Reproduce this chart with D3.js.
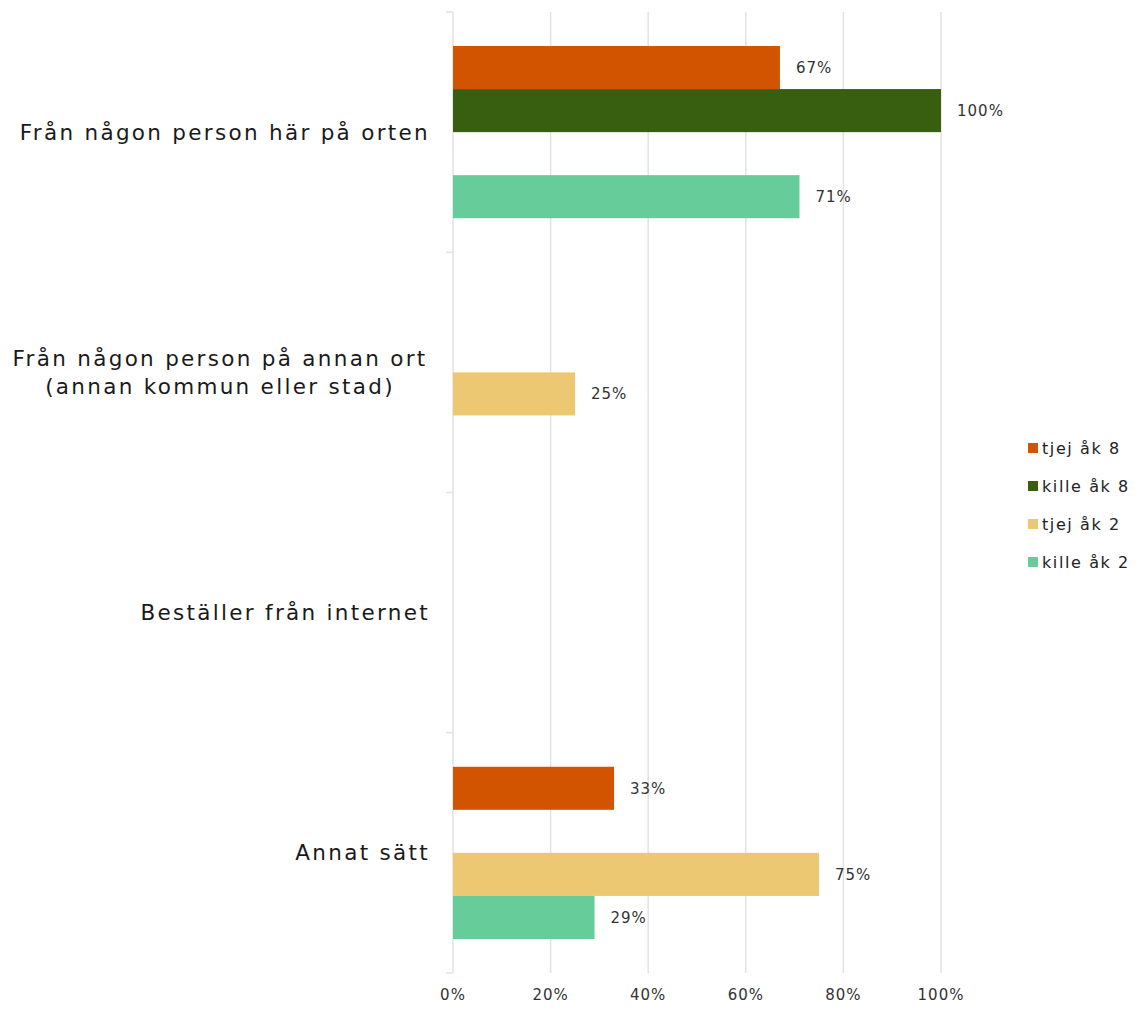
<!DOCTYPE html>
<html><head><meta charset="utf-8">
<script src="https://cdn.jsdelivr.net/npm/d3@7"></script>
<style>body{margin:0;background:#fff}svg{display:block}</style>
</head><body><svg id="c" width="1135" height="1009"></svg>
<script>
const categories = [["Från någon person här på orten"],["Från någon person på annan ort","(annan kommun eller stad)"],["Beställer från internet"],["Annat sätt"]];
const seriesNames = ["tjej åk 8","kille åk 8","tjej åk 2","kille åk 2"];
const seriesColors = ["#D35400","#385E0F","#ECC872","#66CC99"];
const tjejAk8 = [0.67, 0, 0, 0.33];
const killeAk8 = [1.00, 0, 0, 0];
const tjejAk2 = [0, 0.25, 0, 0.75];
const killeAk2 = [0.71, 0, 0, 0.29];
const seriesValues = [tjejAk8, killeAk8, tjejAk2, killeAk2];
const xTicks = [0,0.2,0.4,0.6,0.8,1.0];

const svg = d3.select("#c");
const font = "'DejaVu Sans',sans-serif";
const x = d3.scaleLinear().domain([0,1]).range([453,941]);
const y = d3.scaleBand().domain(d3.range(categories.length)).range([12,973]);
const inner = d3.scaleBand().domain(d3.range(seriesNames.length)).range([0,y.bandwidth()]).paddingOuter(0.79);

// gridlines
svg.append("g").selectAll("line").data(xTicks.slice(1)).join("line")
  .attr("x1",d=>x(d)).attr("x2",d=>x(d)).attr("y1",12).attr("y2",973)
  .attr("stroke","#e2e2e2").attr("stroke-width",1.5);
svg.append("line").attr("x1",453).attr("x2",453).attr("y1",12).attr("y2",973).attr("stroke","#e2e2e2").attr("stroke-width",1.5);
svg.append("g").selectAll("line").data(d3.range(categories.length+1)).join("line")
  .attr("x1",446).attr("x2",453)
  .attr("y1",d=>d<categories.length?y(d):973).attr("y2",d=>d<categories.length?y(d):973)
  .attr("stroke","#e2e2e2").attr("stroke-width",1.5);

// bars
seriesValues.forEach((vals,si)=>{
  const g = svg.append("g");
  const data = vals.map((v,i)=>({v,i})).filter(d=>d.v>0);
  g.selectAll("rect").data(data).join("rect")
    .attr("x",x(0)).attr("y",d=>y(d.i)+inner(si))
    .attr("width",d=>x(d.v)-x(0)).attr("height",inner.bandwidth())
    .attr("fill",seriesColors[si]);
  g.selectAll("text").data(data).join("text")
    .attr("x",d=>x(d.v)+16).attr("y",d=>y(d.i)+inner(si)+inner.bandwidth()/2)
    .attr("dy","0.35em").attr("font-family",font).attr("font-size",15).attr("letter-spacing",1)
    .attr("fill","#333").text(d=>Math.round(d.v*100)+"%");
});

// x tick labels
svg.append("g").selectAll("text").data(xTicks).join("text")
  .attr("x",d=>x(d)).attr("y",1000).attr("text-anchor","middle")
  .attr("font-family",font).attr("font-size",15).attr("letter-spacing",1).attr("fill","#333")
  .text(d=>Math.round(d*100)+"%");

// category labels
categories.forEach((lines,i)=>{
  const cy = y(i)+y.bandwidth()/2;
  const t = svg.append("text")
    .attr("font-family",font).attr("font-size",21.5).attr("letter-spacing",2.3).attr("fill","#1a1a1a");
  const lh = 28;
  lines.forEach((l,k)=>{
    t.append("tspan").attr("x",0).attr("y",cy+(k-(lines.length-1)/2)*lh).attr("dy","0.35em").text(l);
  });
  if(lines.length>1){ t.attr("text-anchor","middle").attr("transform","translate(220,0)"); }
  else { t.attr("text-anchor","end").attr("transform","translate(430,0)"); }
});

// legend
const lg = svg.append("g");
seriesNames.forEach((n,i)=>{
  const ly = 448 + i*38;
  lg.append("rect").attr("x",1028).attr("y",ly-5).attr("width",10).attr("height",10).attr("fill",seriesColors[i]);
  lg.append("text").attr("x",1042).attr("y",ly).attr("dy","0.35em")
    .attr("font-family",font).attr("font-size",16).attr("letter-spacing",1.6).attr("fill","#222").text(n);
});
</script></body></html>
